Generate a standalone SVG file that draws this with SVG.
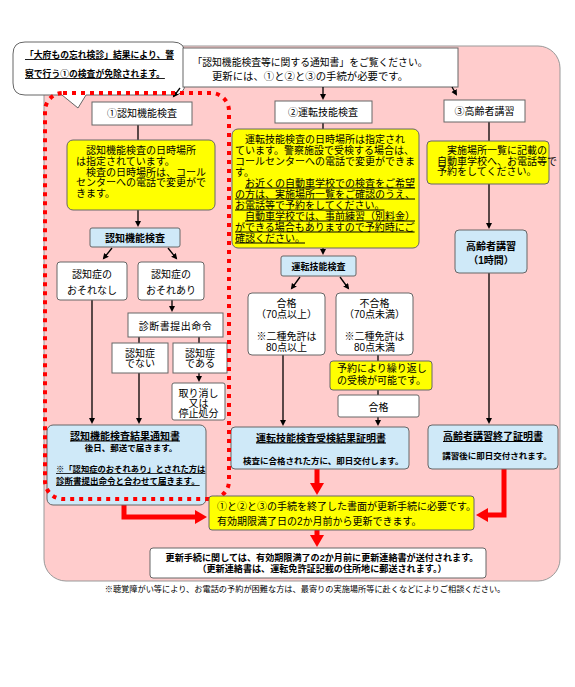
<svg xmlns="http://www.w3.org/2000/svg" width="575" height="687" viewBox="0 0 575 687">
<style>
text{font-family:"Liberation Sans","Noto Sans CJK JP",sans-serif;fill:#000;font-size:10px}
.c{text-anchor:middle}
.b{font-weight:bold}
.u{text-decoration:underline}
.wb{fill:#fff;stroke:#666;stroke-width:1}
.yb{fill:#ffff00;stroke:#666;stroke-width:1}
.bb{fill:#cfe9f8;stroke:#666;stroke-width:1}
.ln{stroke:#000;stroke-width:1.3;fill:none}
.ar{stroke:#000;stroke-width:1.3;fill:none;marker-end:url(#ah)}
.ra{stroke:#ff0000;stroke-width:5;fill:none;marker-end:url(#rh)}
</style>
<defs>
<marker id="ah" markerUnits="userSpaceOnUse" markerWidth="7" markerHeight="7" refX="4" refY="3" orient="auto"><path d="M0,0 L6,3 L0,6 z" fill="#000"/></marker>
<marker id="rh" markerUnits="userSpaceOnUse" markerWidth="13" markerHeight="15" refX="6" refY="7" orient="auto"><path d="M0,0 L12,7 L0,14 z" fill="#ff0000"/></marker>
</defs>
<rect x="0" y="0" width="575" height="687" fill="#fff"/>
<rect id="bg" x="44" y="46" width="516" height="535" rx="22" fill="#ffcccc" stroke="#999" stroke-width="1"/>

<g id="callout">
<path d="M25,42 H173 Q185,42 185,54 V83 Q185,95 173,95 H86 L78,108 L62,95 H25 Q13,95 13,83 V54 Q13,42 25,42 Z" fill="#fff" stroke="#666" stroke-width="1"/>
<text transform="translate(25,58) scale(0.88)" class="b u">「大府もの忘れ検診」結果により、警</text>
<text transform="translate(25,77) scale(0.88)" class="b u">察で行う①の検査が免除されます。</text>
</g>

<g id="header">
<rect x="183" y="48" width="275" height="39" class="wb"/>
<text x="310" y="66" class="c" textLength="235" lengthAdjust="spacingAndGlyphs">「認知機能検査等に関する通知書」をご覧ください。</text>
<text x="310" y="80" class="c" textLength="196" lengthAdjust="spacingAndGlyphs">更新には、①と②と③の手続が必要です。</text>
</g>

<g id="connectors">
<path class="ar" d="M180,88 L174,96"/>
<path class="ar" d="M323,87 V98"/>
<path class="ar" d="M452,87 L456,94"/>
<path class="ln" d="M138,125 V140"/>
<path class="ar" d="M138,210 V225"/>
<path class="ar" d="M112,248 L104,258"/>
<path class="ar" d="M168,248 L176,258"/>
<path class="ar" d="M92,300 V422"/>
<path class="ar" d="M172,300 V310"/>
<path class="ln" d="M139,337 V343"/>
<path class="ln" d="M199,337 V343"/>
<path class="ar" d="M199,373 V380"/>
<path class="ar" d="M139,373 V422"/>
<path class="ln" d="M323,123 V129"/>
<path class="ar" d="M323,248 V253"/>
<path class="ar" d="M300,277 L292,288"/>
<path class="ar" d="M340,277 L348,288"/>
<path class="ar" d="M283,355 V424"/>
<path class="ln" d="M378,355 V361"/>
<path class="ln" d="M378,390 V395"/>
<path class="ar" d="M378,417 V424"/>
<path class="ln" d="M489,122 V141"/>
<path class="ar" d="M489,184 V227"/>
<path class="ar" d="M489,273 V422"/>
<path class="ra" d="M124,505 V517 H201"/>
<path class="ra" d="M317,469 V489"/>
<path class="ra" d="M504,469 V515 H482"/>
<path class="ra" d="M317,530 V541"/>
</g>

<g id="n1">
<rect x="92" y="102" width="100" height="23" class="wb"/>
<text x="142" y="117" class="c" font-size="11">①認知機能検査</text>
</g>
<g id="n2">
<rect x="275" y="101" width="97" height="22" class="wb"/>
<text x="323" y="116" class="c" font-size="11">②運転技能検査</text>
</g>
<g id="n3">
<rect x="444" y="100" width="81" height="22" class="wb"/>
<text x="484.5" y="115" class="c" font-size="11">③高齢者講習</text>
</g>

<g id="y1">
<rect x="67" y="140" width="148" height="70" rx="6" class="yb"/>
<text x="86" y="154">認知機能検査の日時場所</text>
<text x="76" y="165">は指定されています。</text>
<text x="86" y="175.5">検査の日時場所は、コール</text>
<text x="76" y="186">センターへの電話で変更がで</text>
<text x="76" y="197">きます。</text>
</g>

<g id="y2">
<rect x="232" y="129" width="187" height="119" rx="6" class="yb"/>
<text x="245" y="142.5">運転技能検査の日時場所は指定され</text>
<text x="235" y="153.5">ています。警察施設で受検する場合は、</text>
<text x="235" y="164.5">コールセンターへの電話で変更ができま</text>
<text x="235" y="175.5">す。</text>
<text x="245" y="186.5" class="u">お近くの自動車学校での検査をご希望</text>
<text x="235" y="197.5" class="u">の方は、実施場所一覧をご確認のうえ、</text>
<text x="235" y="208.5" class="u">お電話等で予約をしてください。</text>
<text x="245" y="219.5" class="u">自動車学校では、事前練習（別料金）</text>
<text x="235" y="230.5" class="u">ができる場合もありますので予約時にご</text>
<text x="235" y="241.5" class="u">確認ください。</text>
</g>

<g id="y3">
<rect x="427" y="141" width="122" height="43" rx="4" class="yb"/>
<text x="447" y="153.5" font-size="9.5">実施場所一覧に記載の</text>
<text x="437" y="164.5" font-size="9.5">自動車学校へ、お電話等で</text>
<text x="437" y="175" font-size="9.5">予約をしてください。</text>
</g>

<g id="b1">
<rect x="90" y="228" width="90" height="19" rx="2" class="bb"/>
<text x="135" y="241.5" class="c b">認知機能検査</text>
</g>
<g id="n1a">
<rect x="57" y="262" width="70" height="38" rx="3" class="wb"/>
<text x="92" y="277.5" class="c">認知症の</text>
<text x="92" y="293.5" class="c">おそれなし</text>
</g>
<g id="n1b">
<rect x="138" y="262" width="66" height="38" rx="3" class="wb"/>
<text x="171" y="277.5" class="c">認知症の</text>
<text x="171" y="293.5" class="c">おそれあり</text>
</g>
<g id="n1c">
<rect x="128" y="313" width="95" height="24" class="wb"/>
<text x="175.5" y="329.5" class="c" font-size="10.5" letter-spacing="0.5">診断書提出命令</text>
</g>
<g id="n1d">
<rect x="112" y="343" width="56" height="30" class="wb"/>
<text x="140" y="356.5" class="c">認知症</text>
<text x="140" y="367" class="c">でない</text>
</g>
<g id="n1e">
<rect x="173" y="343" width="54" height="30" class="wb"/>
<text x="200" y="356.5" class="c">認知症</text>
<text x="200" y="367" class="c">である</text>
</g>
<g id="n1f">
<rect x="172" y="383" width="53" height="37" rx="2" class="wb"/>
<text x="198.5" y="396.5" class="c" font-size="9.5">取り消し</text>
<text x="198.5" y="406.5" class="c" font-size="9.5">又は</text>
<text x="198.5" y="417" class="c" font-size="9.5">停止処分</text>
</g>

<g id="r1">
<rect x="47" y="425" width="159" height="80" rx="6" class="bb"/>
<text x="125" y="439.5" class="c b u" font-size="10.5">認知機能検査結果通知書</text>
<text transform="translate(131,450.5) scale(0.85)" class="c b">後日、郵送で届きます。</text>
<text transform="translate(56,472) scale(0.83)" class="b u">※「認知症のおそれあり」とされた方は</text>
<text transform="translate(56,484) scale(0.85)" class="b u">診断書提出命令と合わせて届きます。</text>
</g>

<g id="b2">
<rect x="281" y="256" width="75" height="20" rx="2" class="bb"/>
<text transform="translate(318.5,270) scale(0.9)" class="c b">運転技能検査</text>
</g>
<g id="n2a">
<rect x="248" y="293" width="77" height="62" rx="4" class="wb"/>
<text x="286.5" y="306.5" class="c" font-size="9.5">合格</text>
<text x="286.5" y="318" class="c" font-size="9.5">（70点以上）</text>
<text x="286.5" y="339.5" class="c" font-size="10">※二種免許は</text>
<text x="286.5" y="351" class="c" font-size="10">80点以上</text>
</g>
<g id="n2b">
<rect x="336" y="293" width="77" height="62" rx="4" class="wb"/>
<text x="374.5" y="306.5" class="c" font-size="9.5">不合格</text>
<text x="374.5" y="318" class="c" font-size="9.5">（70点未満）</text>
<text x="374.5" y="339.5" class="c" font-size="10">※二種免許は</text>
<text x="374.5" y="351" class="c" font-size="10">80点未満</text>
</g>
<g id="y2b">
<rect x="330" y="361" width="102" height="29" rx="3" class="yb"/>
<text x="337" y="372" font-size="9.5">予約により繰り返し</text>
<text x="337" y="384" font-size="9.5">の受検が可能です。</text>
</g>
<g id="n2c">
<rect x="338" y="395" width="81" height="22" rx="2" class="wb"/>
<text x="378.5" y="410.5" class="c">合格</text>
</g>
<g id="r2">
<rect x="231" y="427" width="178" height="42" rx="4" class="bb"/>
<text x="321" y="441.5" class="c b u" font-size="11">運転技能検査受検結果証明書</text>
<text transform="translate(243,463.5) scale(0.85)" class="b">検査に合格された方に、即日交付します。</text>
</g>

<g id="b3">
<rect x="455" y="230" width="72" height="43" rx="4" class="bb"/>
<text x="491" y="249.5" class="c b">高齢者講習</text>
<text x="491" y="263.5" class="c b" font-size="9.5">（1時間）</text>
</g>
<g id="r3">
<rect x="428" y="425" width="130" height="44" rx="4" class="bb"/>
<text x="493" y="440" class="c b u" font-size="11">高齢者講習終了証明書</text>
<text transform="translate(497,459) scale(0.85)" class="c b">講習後に即日交付されます。</text>
</g>

<g id="dotted">
<rect x="45" y="93" width="184" height="406" rx="18" fill="none" stroke="#ff0000" stroke-width="4" stroke-dasharray="4 5"/>
</g>

<g id="fy">
<rect x="209" y="496" width="265" height="34" rx="3" class="yb"/>
<text x="217" y="510">①と②と③の手続を終了した書面が更新手続に必要です。</text>
<text x="217" y="525">有効期限満了日の2か月前から更新できます。</text>
</g>
<g id="fw">
<rect x="150" y="548" width="336" height="30" rx="3" class="wb"/>
<text transform="translate(322,560.5) scale(0.91)" class="c b">更新手続に関しては、有効期限満了の2か月前に更新連絡書が送付されます。</text>
<text transform="translate(322,572) scale(0.91)" class="c b">（更新連絡書は、運転免許証記載の住所地に郵送されます。）</text>
</g>
<text transform="translate(305,592) scale(0.82)" class="c">※聴覚障がい等により、お電話の予約が困難な方は、最寄りの実施場所等に赴くなどによりご相談ください。</text>
</svg>
